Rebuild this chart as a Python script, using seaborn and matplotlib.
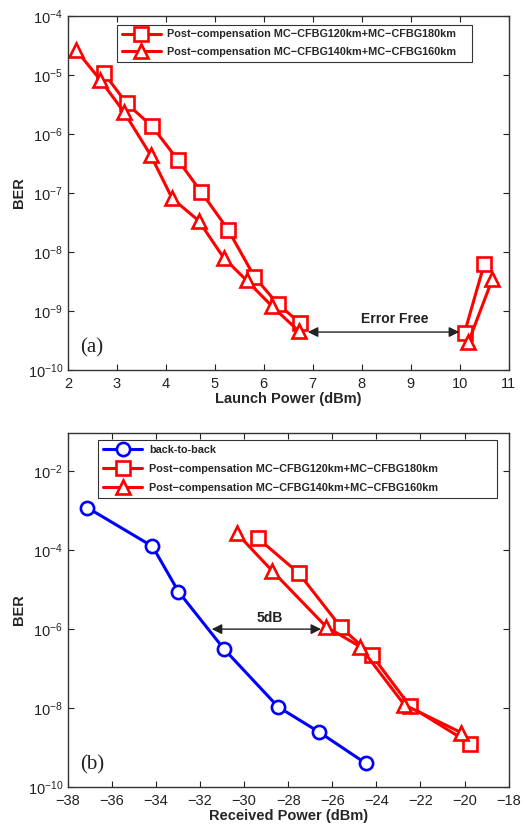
import numpy as np
import pandas as pd
import matplotlib
matplotlib.use("Agg")
import matplotlib.pyplot as plt
import seaborn as sns
from matplotlib.ticker import LogLocator, NullLocator, FixedLocator

# ---------------- data: panel (a) ----------------
# two branches per curve (below and above the error-free window)
a_sq_x = [2.73, 3.20, 3.72, 4.25, 4.72, 5.27, 5.81, 6.29, 6.74, 10.10, 10.50]
a_sq_y = [1.1e-5, 3.3e-6, 1.35e-6, 3.6e-7, 1.05e-7, 2.4e-8, 3.8e-9, 1.3e-9, 6.3e-10, 4.3e-10, 6.2e-9]
a_sq_seg = [0, 0, 0, 0, 0, 0, 0, 0, 0, 1, 1]
a_tr_x = [2.16, 2.66, 3.14, 3.69, 4.13, 4.67, 5.18, 5.65, 6.17, 6.71, 10.18, 10.67]
a_tr_y = [2.7e-5, 8.3e-6, 2.4e-6, 4.4e-7, 8.1e-8, 3.4e-8, 8.0e-9, 3.3e-9, 1.2e-9, 4.6e-10, 3.0e-10, 3.5e-9]
a_tr_seg = [0, 0, 0, 0, 0, 0, 0, 0, 0, 0, 1, 1]

# ---------------- data: panel (b) ----------------
b_b2b_x = [-37.12, -34.16, -32.98, -30.93, -28.46, -26.62, -24.49]
b_b2b_y = [1.2e-3, 1.25e-4, 8.9e-6, 3.2e-7, 1.07e-8, 2.5e-9, 4.0e-10]
b_sq_x = [-29.37, -27.52, -25.60, -24.21, -22.47, -19.75]
b_sq_y = [2.0e-4, 2.6e-5, 1.1e-6, 2.2e-7, 1.1e-8, 1.26e-9]
b_tr_x = [-30.34, -28.73, -26.28, -24.74, -22.73, -20.16]
b_tr_y = [2.7e-4, 3.0e-5, 1.15e-6, 3.6e-7, 1.2e-8, 2.4e-9]

label_b2b = "back-to-back"
label_sq = "Post\u2212compensation MC\u2212CFBG120km+MC\u2212CFBG180km"
label_tr = "Post\u2212compensation MC\u2212CFBG140km+MC\u2212CFBG160km"

a_xticks = [2, 3, 4, 5, 6, 7, 8, 9, 10, 11]
b_xticks = [-38, -36, -34, -32, -30, -28, -26, -24, -22, -20, -18]

sns.set_style("ticks")
plt.rcParams["font.family"] = ["Liberation Sans", "DejaVu Sans"]
plt.rcParams["xtick.direction"] = "in"
plt.rcParams["ytick.direction"] = "in"
plt.rcParams["xtick.top"] = True
plt.rcParams["ytick.right"] = True
plt.rcParams["axes.linewidth"] = 1.0
plt.rcParams["axes.edgecolor"] = "#333333"

fig = plt.figure(figsize=(5.26, 8.27), dpi=100)
ax1 = fig.add_axes([0.129, 0.5526, 0.838, 0.428])
ax2 = fig.add_axes([0.129, 0.0484, 0.838, 0.428])

RED = "#ff0000"
BLUE = "#0000ff"
lw = 2.2
ms = 9.5
mew = 1.9


def series(ax, x, y, marker, color, label, msize=ms, seg=None):
    df = pd.DataFrame({"x": x, "y": y})
    if seg is None:
        df["seg"] = 0
    else:
        df["seg"] = seg
    for i, (k, part) in enumerate(df.groupby("seg")):
        sns.lineplot(data=part, x="x", y="y", ax=ax, color=color, marker=marker,
                     markersize=msize, markerfacecolor="white", markeredgecolor=color,
                     markeredgewidth=mew, linewidth=lw, sort=False,
                     label=label if i == 0 else None, estimator=None)


def style_axes(ax, xlabel):
    ax.set_yscale("log")
    ax.yaxis.set_minor_locator(NullLocator())
    ax.set_xlabel(xlabel, fontsize=10.5, fontweight="bold", labelpad=1)
    ax.set_ylabel("BER", fontsize=10.5, fontweight="bold", labelpad=1)
    ax.tick_params(labelsize=10.5, length=4, width=0.8, colors="#222222")
    ax.tick_params(axis="x", pad=5)


def make_legend(ax, x0, top, width, spacing):
    leg = ax.legend(loc="upper left", bbox_to_anchor=(x0, 0.3, width, top - 0.3),
                    mode="expand", prop={"weight": "bold", "size": 7.8},
                    frameon=True, fancybox=False, borderpad=0.45,
                    labelspacing=spacing, handlelength=3.6, handletextpad=0.6,
                    borderaxespad=0)
    leg.get_frame().set_edgecolor("black")
    leg.get_frame().set_linewidth(0.8)
    return leg


# ---------- panel (a) ----------
series(ax1, a_sq_x, a_sq_y, "s", RED, label_sq, seg=a_sq_seg)
series(ax1, a_tr_x, a_tr_y, "^", RED, label_tr, msize=10.5, seg=a_tr_seg)
style_axes(ax1, "Launch Power (dBm)")
ax1.set_xlim(2, 11)
ax1.set_ylim(1e-10, 1e-4)
ax1.xaxis.set_major_locator(FixedLocator(a_xticks))
ax1.yaxis.set_major_locator(LogLocator(base=10, numticks=20))
ax1.yaxis.set_minor_locator(NullLocator())
make_legend(ax1, 0.111, 0.976, 0.807, 0.7)
ax1.annotate("", xy=(6.9, 4.4e-10), xytext=(9.99, 4.4e-10),
             arrowprops=dict(arrowstyle="<|-|>", color="#222222", lw=1.0,
                             mutation_scale=15, shrinkA=0, shrinkB=0))
ax1.text(8.67, 7.2e-10, "Error Free", fontsize=10, fontweight="bold",
         ha="center", va="center", color="#222222")
ax1.text(2.48, 10 ** -9.63, "(a)", fontsize=15, family="Liberation Serif",
         ha="center", va="center", color="#222222")

# ---------- panel (b) ----------
series(ax2, b_b2b_x, b_b2b_y, "o", BLUE, label_b2b)
series(ax2, b_sq_x, b_sq_y, "s", RED, label_sq)
series(ax2, b_tr_x, b_tr_y, "^", RED, label_tr, msize=10.5)
style_axes(ax2, "Received Power (dBm)")
ax2.set_xlim(-38, -18)
ax2.set_ylim(1e-10, 10 ** -1.03)
ax2.xaxis.set_major_locator(FixedLocator(b_xticks))
ax2.yaxis.set_major_locator(FixedLocator([1e-10, 1e-8, 1e-6, 1e-4, 1e-2]))
ax2.yaxis.set_minor_locator(NullLocator())
make_legend(ax2, 0.0695, 0.981, 0.9035, 0.85)
ax2.annotate("", xy=(-31.47, 1e-6), xytext=(-26.51, 1e-6),
             arrowprops=dict(arrowstyle="<|-|>", color="#222222", lw=1.0,
                             mutation_scale=15, shrinkA=0, shrinkB=0))
ax2.text(-28.85, 1.9e-6, "5dB", fontsize=10, fontweight="bold",
         ha="center", va="center", color="#222222")
ax2.text(-36.9, 10 ** -9.45, "(b)", fontsize=15, family="Liberation Serif",
         ha="center", va="center", color="#222222")

fig.savefig("out.png", dpi=100)
